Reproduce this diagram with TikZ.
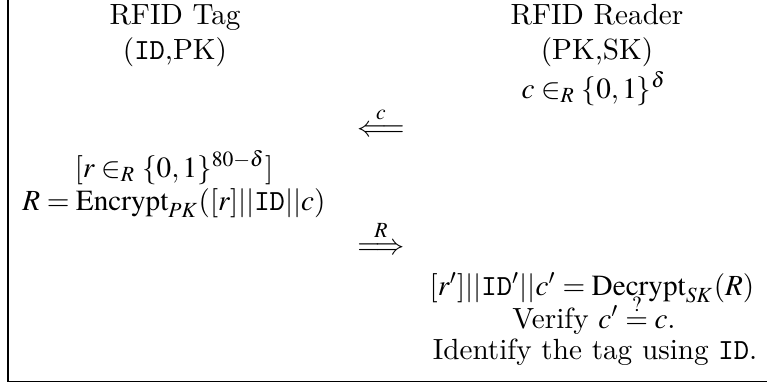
\documentclass[tikz,border=0pt]{standalone}
\usepackage{mathptmx}
\begin{document}
\begin{tikzpicture}[x=0.3425pt,y=-0.3425pt,
  lbl/.style={anchor=base, inner sep=0pt, font=\fontsize{10}{12}\selectfont},
  frameline/.style={line width=0.45pt}]
\useasboundingbox (0,0) rectangle (767,385);
\coordinate (tl) at (8,0);
\coordinate (bl) at (8,381.5);
\coordinate (br) at (767,381.5);
\draw[frameline] (tl) -- (bl) -- (br);
% Tag column
\node[lbl] (tag) at (175,24) {RFID Tag};
\node[lbl] (tagkeys) at (175,59) {(\texttt{ID},PK)};
\node[lbl] (rand) at (174,177) {$[r \in_R \{0,1\}^{80-\delta}]$};
\node[lbl] (enc) at (174,210) {$R = \mathrm{Encrypt}_{PK}([r]||\texttt{ID}||c)$};
% Reader column
\node[lbl] (reader) at (597,24) {RFID Reader};
\node[lbl] (readerkeys) at (597,59) {(PK,SK)};
\node[lbl] (chal) at (594,98) {$c \in_R \{0,1\}^{\delta}$};
\node[lbl] (dec) at (592,295) {$[r']||\texttt{ID}'||c' = \mathrm{Decrypt}_{SK}(R)$};
\node[lbl] (ver) at (594,328) {Verify $c' \stackrel{?}{=} c$.};
\node[lbl] (ident) at (595,360) {Identify the tag using \texttt{ID}.};
% Messages
\node[lbl] (msgc) at (381,136) {$\stackrel{c}{\Longleftarrow}$};
\node[lbl] (msgR) at (381,254) {$\stackrel{R}{\Longrightarrow}$};
\end{tikzpicture}
\end{document}
